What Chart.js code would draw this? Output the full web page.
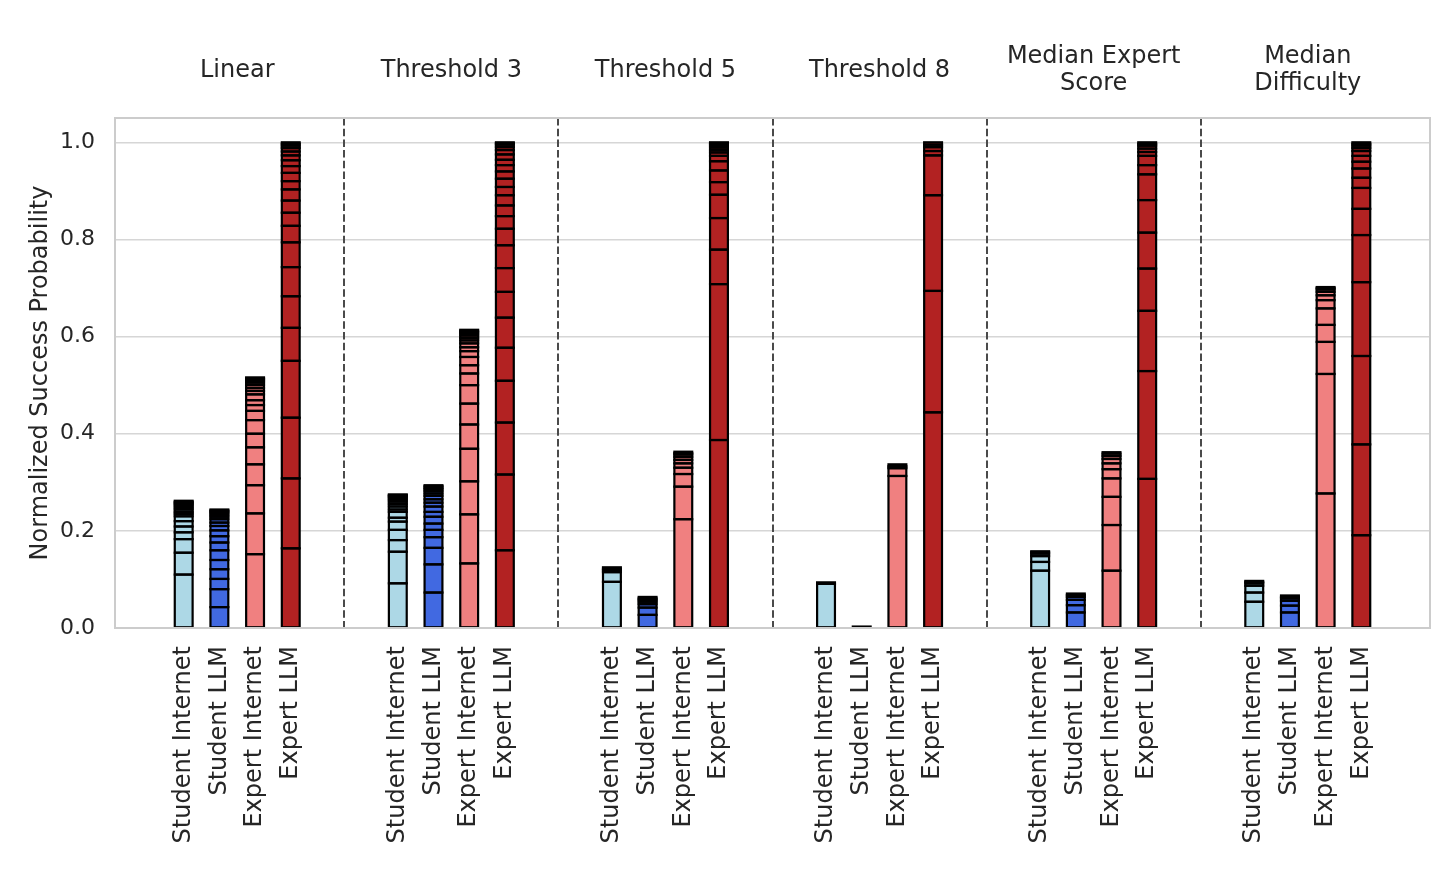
<!DOCTYPE html>
<html>
<head>
<meta charset="utf-8">
<script src="https://cdn.jsdelivr.net/npm/chart.js@4.4.1/dist/chart.umd.min.js"></script>
<style>
html,body{margin:0;padding:0;background:#ffffff;}
#wrap{width:1456px;height:874px;position:relative;}
</style>
</head>
<body>
<div id="wrap"><canvas id="c"></canvas></div>
<script>
// ---- data (cumulative stack tops of each bar) ----
const groupTitles = [['Linear'], ['Threshold 3'], ['Threshold 5'], ['Threshold 8'], ['Median Expert', 'Score'], ['Median', 'Difficulty']];
const barLabels = ['Student Internet', 'Student LLM', 'Expert Internet', 'Expert LLM'];
const barColors = ['#ADD8E6', '#4169E1', '#F08080', '#B22222'];
const yTicks = [0.0, 0.2, 0.4, 0.6, 0.8, 1.0];

const linearCum = [
  [0.110, 0.155, 0.183, 0.197, 0.209, 0.220, 0.230, 0.235, 0.239, 0.244, 0.248, 0.252, 0.255, 0.258, 0.260, 0.262],
  [0.043, 0.080, 0.101, 0.121, 0.140, 0.160, 0.176, 0.189, 0.201, 0.210, 0.217, 0.224, 0.229, 0.233, 0.237, 0.240, 0.242, 0.244],
  [0.152, 0.236, 0.294, 0.337, 0.372, 0.400, 0.428, 0.447, 0.459, 0.469, 0.481, 0.488, 0.494, 0.500, 0.505, 0.509, 0.512, 0.514, 0.516],
  [0.164, 0.308, 0.433, 0.550, 0.618, 0.683, 0.743, 0.794, 0.828, 0.855, 0.880, 0.903, 0.920, 0.937, 0.951, 0.963, 0.973, 0.981, 0.988, 0.993, 0.997, 1.000]
];
const threshold3Cum = [
  [0.092, 0.157, 0.181, 0.202, 0.219, 0.227, 0.239, 0.244, 0.250, 0.255, 0.260, 0.264, 0.267, 0.270, 0.272, 0.274, 0.275],
  [0.073, 0.131, 0.165, 0.187, 0.202, 0.215, 0.229, 0.239, 0.250, 0.258, 0.265, 0.272, 0.277, 0.282, 0.286, 0.289, 0.292, 0.294],
  [0.133, 0.234, 0.302, 0.369, 0.419, 0.462, 0.500, 0.524, 0.541, 0.558, 0.570, 0.578, 0.586, 0.592, 0.597, 0.602, 0.606, 0.609, 0.612, 0.614],
  [0.160, 0.316, 0.423, 0.509, 0.577, 0.639, 0.692, 0.741, 0.788, 0.822, 0.848, 0.870, 0.891, 0.908, 0.925, 0.940, 0.953, 0.964, 0.975, 0.984, 0.990, 0.995, 0.998, 1.000]
];
const threshold5Cum = [
  [0.095, 0.115, 0.119, 0.122, 0.125],
  [0.027, 0.042, 0.049, 0.054, 0.058, 0.061, 0.064],
  [0.224, 0.291, 0.317, 0.330, 0.339, 0.346, 0.352, 0.357, 0.360, 0.363],
  [0.387, 0.708, 0.779, 0.844, 0.892, 0.918, 0.942, 0.961, 0.972, 0.979, 0.984, 0.989, 0.993, 0.996, 0.998, 1.000]
];
const threshold8Cum = [
  [0.091, 0.094],
  [0.003],
  [0.313, 0.329, 0.333, 0.337],
  [0.444, 0.694, 0.891, 0.973, 0.982, 0.990, 0.995, 1.000]
];
const medianExpertCum = [
  [0.118, 0.136, 0.148, 0.153, 0.156, 0.158],
  [0.032, 0.047, 0.058, 0.064, 0.068, 0.071],
  [0.118, 0.212, 0.270, 0.308, 0.327, 0.339, 0.348, 0.354, 0.359, 0.362],
  [0.307, 0.529, 0.653, 0.740, 0.814, 0.881, 0.934, 0.953, 0.972, 0.980, 0.987, 0.993, 0.997, 1.000]
];
const medianDifficultyCum = [
  [0.054, 0.073, 0.087, 0.092, 0.095, 0.097],
  [0.032, 0.046, 0.056, 0.061, 0.064, 0.067],
  [0.277, 0.523, 0.589, 0.624, 0.658, 0.675, 0.685, 0.692, 0.697, 0.700, 0.702],
  [0.191, 0.378, 0.560, 0.712, 0.809, 0.863, 0.906, 0.927, 0.946, 0.960, 0.972, 0.982, 0.988, 0.993, 0.997, 1.000]
];
const allGroups = [linearCum, threshold3Cum, threshold5Cum, threshold8Cum, medianExpertCum, medianDifficultyCum];

// ---- build bars / datasets ----
const GROUP_STEP = 6;
const bars = [];
const tickPositions = [];
const tickLabels = [];
allGroups.forEach((grp, g) => {
  grp.forEach((cum, k) => {
    const pos = g * GROUP_STEP + k;
    const segs = cum.map((v, i) => v - (i ? cum[i - 1] : 0));
    bars.push({pos, k, segs});
    tickPositions.push(pos);
    tickLabels.push(barLabels[k]);
  });
});
const separators = [];
for (let g = 1; g < allGroups.length; g++) separators.push(g * GROUP_STEP - 1.5);

const maxSegs = Math.max(...bars.map(b => b.segs.length));
const datasets = [];
for (let j = 0; j < maxSegs; j++) {
  const pts = bars.filter(b => b.segs.length > j).map(b => ({x: b.pos, y: b.segs[j], k: b.k}));
  datasets.push({
    data: pts,
    backgroundColor: pts.map(p => barColors[p.k]),
    borderWidth: 0,
    borderSkipped: false,
    inflateAmount: 0,
    barPercentage: 0.5,
    categoryPercentage: 1.0
  });
}

Chart.defaults.font.family = '"DejaVu Sans", sans-serif';
Chart.defaults.color = '#262626';

// edges centred on each bar segment's outline (as matplotlib draws them)
const barEdges = {
  id: 'barEdges',
  afterDatasetsDraw(chart) {
    const ctx = chart.ctx;
    ctx.save();
    ctx.strokeStyle = '#000000';
    ctx.lineWidth = 2.2;
    chart.getSortedVisibleDatasetMetas().forEach(meta => {
      meta.data.forEach(el => {
        const {x, y, base, width} = el.getProps(['x', 'y', 'base', 'width'], true);
        const top = Math.min(y, base);
        ctx.strokeRect(x - width / 2, top, width, Math.abs(base - y));
      });
    });
    ctx.restore();
  }
};

const decor = {
  id: 'decor',
  afterDatasetsDraw(chart) {
    const {ctx, chartArea: a, scales: {x}} = chart;
    ctx.save();
    ctx.strokeStyle = '#4a4a4a';
    ctx.lineWidth = 2;
    ctx.setLineDash([7.5, 3.2]);
    separators.forEach(v => {
      const px = Math.round(x.getPixelForValue(v));
      ctx.beginPath();
      ctx.moveTo(px, a.top);
      ctx.lineTo(px, a.bottom);
      ctx.stroke();
    });
    ctx.setLineDash([]);
    ctx.strokeStyle = '#cccccc';
    ctx.lineWidth = 2;
    ctx.strokeRect(a.left, a.top, a.right - a.left, a.bottom - a.top);
    ctx.fillStyle = '#262626';
    ctx.font = '24px "DejaVu Sans"';
    ctx.textAlign = 'center';
    ctx.textBaseline = 'middle';
    groupTitles.forEach((lines, g) => {
      const px = x.getPixelForValue(g * GROUP_STEP + 1.5);
      const lh = 27;
      const y0 = 70.5 - (lines.length - 1) * lh / 2;
      lines.forEach((t, i) => ctx.fillText(t, px, y0 + i * lh));
    });
    ctx.restore();
  }
};

new Chart(document.getElementById('c'), {
  type: 'bar',
  data: {datasets},
  plugins: [barEdges, decor],
  options: {
    responsive: true,
    maintainAspectRatio: false,
    animation: false,
    layout: {padding: {left: 26, right: 26, top: 118, bottom: 0}},
    plugins: {legend: {display: false}, tooltip: {enabled: false}},
    scales: {
      x: {
        type: 'linear',
        offset: false,
        min: -1.925,
        max: 34.925,
        stacked: true,
        grid: {display: false, drawTicks: false, offset: false},
        border: {display: false},
        afterBuildTicks: (s) => { s.ticks = tickPositions.map(v => ({value: v})); },
        afterFit: (s) => { s.height = 246; },
        ticks: {
          autoSkip: false,
          minRotation: 90,
          maxRotation: 90,
          padding: 18,
          font: {size: 24},
          color: '#262626',
          callback: (v, i) => tickLabels[i]
        }
      },
      y: {
        min: 0,
        max: 1.05,
        stacked: true,
        afterBuildTicks: (s) => { s.ticks = yTicks.map(v => ({value: v})); },
        afterFit: (s) => { s.width = 89; },
        grid: {color: '#d6d6d6', lineWidth: 1.5, drawTicks: false},
        border: {display: false},
        ticks: {padding: 20, font: {size: 22}, color: '#262626', callback: (v) => Number(v).toFixed(1)},
        title: {display: true, text: 'Normalized Success Probability', font: {size: 24}, color: '#262626', padding: {top: 0, bottom: 0}}
      }
    }
  }
});
</script>
</body>
</html>
